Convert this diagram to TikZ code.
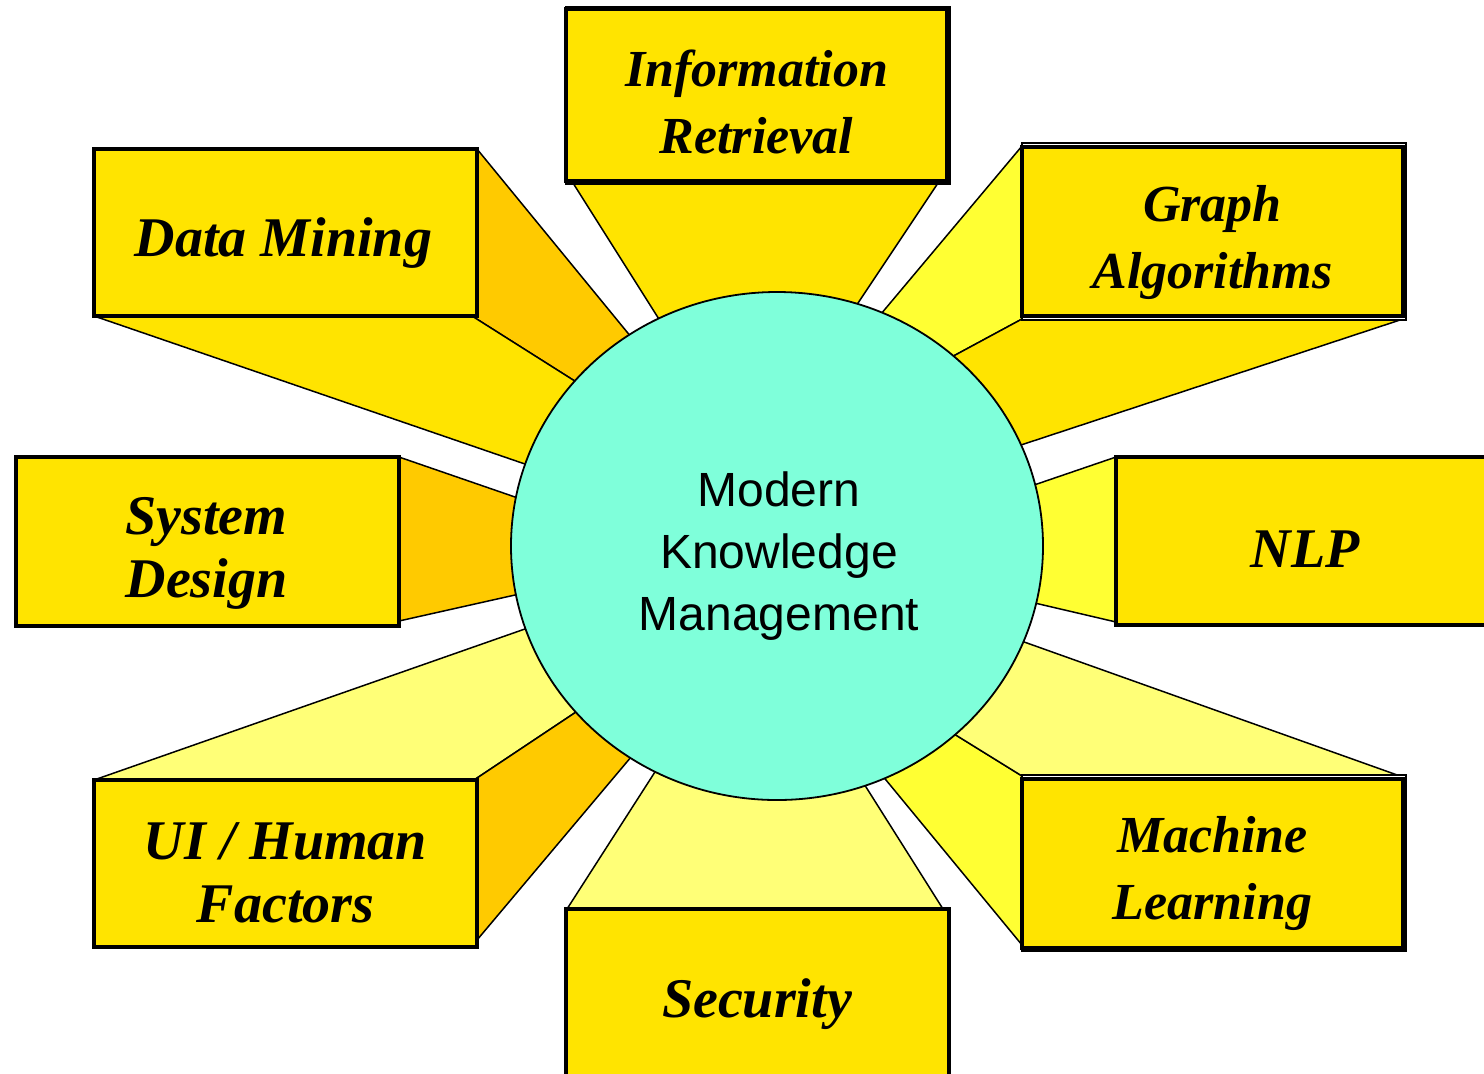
\documentclass[tikz,border=0pt]{standalone}
\usepackage{fontspec}
\setmainfont{Liberation Serif}
\newfontfamily\kmsans{Liberation Sans}
\usetikzlibrary{calc,shapes.geometric}
\definecolor{gold}{HTML}{FFE400}
\definecolor{deepgold}{HTML}{FFCA00}
\definecolor{brightyel}{HTML}{FFFF33}
\definecolor{paleyel}{HTML}{FFFF77}
\definecolor{aqua}{HTML}{7FFFDA}
\newcommand\beamface[5]{%
  \filldraw[fill=#1,draw=black,line width=0.75pt,line join=round]
  (#2) -- ($(#2)!1.5!(#3)$) -- ($(#4)!1.5!(#5)$) -- (#4) -- cycle;}
\begin{document}
\begin{tikzpicture}[x=0.5pt,y=-0.5pt,
  topicbox/.style={draw=black,line width=1.8pt,fill=gold,rectangle,inner sep=0pt},
  outerbox/.style={draw=black,line width=0.8pt,fill=white,rectangle,inner sep=0pt},
  topictext/.style={align=center,inner sep=0pt,font=\fontsize{26}{33.5}\selectfont\bfseries\itshape},
  bigtext/.style={align=center,inner sep=0pt,font=\fontsize{28}{31.5}\selectfont\bfseries\itshape}]
\useasboundingbox (0,0) rectangle (1484,1073);
% ---- extruded faces (drawn behind the hub) ----
% Information Retrieval
\beamface{gold}{573,183}{657,316}{938,183}{860,300}
% Data Mining
\beamface{deepgold}{477,149}{627,332}{472,316}{570,378}
\beamface{gold}{94,316}{522,463}{472,316}{570,378}
% Graph Algorithms
\beamface{brightyel}{1022,146}{886,308}{1022,319}{959,353}
\beamface{gold}{1022,319}{959,353}{1400,320}{1027,443}
% NLP
\beamface{brightyel}{1116,457}{1037,484}{1116,622}{1039,604}
% Machine Learning
\beamface{brightyel}{1022,776}{959,737}{1022,945}{886,780}
\beamface{paleyel}{1022,776}{959,737}{1400,776}{1027,643}
% Security
\beamface{paleyel}{567,909}{653,775}{943,909}{866,787}
% UI / Human Factors
\beamface{paleyel}{94,780}{522,630}{474,780}{570,716}
\beamface{deepgold}{474,780}{570,716}{477,940}{626,763}
% System Design
\beamface{deepgold}{399,457}{515,497}{399,621}{515,595}
% ---- hub ----
\node[ellipse,draw=black,line width=0.9pt,fill=aqua,minimum width=266pt,minimum height=254pt,inner sep=0pt] (hub) at (777,546) {};
\node[font=\kmsans\fontsize{24}{31}\selectfont,align=center] (hubtext) at (779,556) {Modern\\Knowledge\\Management};
% ---- boxes ----
\node[outerbox,minimum width=192pt,minimum height=88.5pt] (irback) at (758,95.5) {};
\node[topicbox,minimum width=190.5pt,minimum height=86pt] (ir) at (756.5,95) {};
\node[topictext] (irtext) at ($(ir.center)+(0,7)$) {Information\\Retrieval};
\node[topicbox,minimum width=191.5pt,minimum height=83.5pt] (dm) at (285.5,232.5) {};
\node[bigtext] (dmtext) at ($(dm.center)+(-2,11)$) {Data Mining};
\node[outerbox,minimum width=192pt,minimum height=88.5pt] (gaback) at (1214,231.5) {};
\node[topicbox,minimum width=190.5pt,minimum height=84.5pt] (ga) at (1212.5,231.5) {};
\node[topictext] (gatext) at ($(ga.center)+(0,11)$) {Graph\\Algorithms};
\node[topicbox,minimum width=191.5pt,minimum height=84.5pt] (sd) at (207.5,541.5) {};
\node[bigtext] (sdtext) at ($(sd.center)+(-1,12)$) {System\\Design};
\node[topicbox,minimum width=192pt,minimum height=84pt] (nlp) at (1308,541) {};
\node[bigtext] (nlptext) at ($(nlp.center)+(-3,8)$) {NLP};
\node[topicbox,minimum width=191.5pt,minimum height=83.5pt] (ui) at (285.5,863.5) {};
\node[bigtext] (uitext) at ($(ui.center)+(0,9)$) {UI / Human\\Factors};
\node[outerbox,minimum width=192pt,minimum height=88pt] (mlback) at (1214,863) {};
\node[topicbox,minimum width=190.5pt,minimum height=84.5pt] (ml) at (1212.5,863.5) {};
\node[topictext] (mltext) at ($(ml.center)+(0,10)$) {Machine\\Learning};
\node[topicbox,minimum width=191.5pt,minimum height=90.5pt] (sec) at (757.5,999.5) {};
\node[bigtext] (sectext) at (757,1004) {Security};
\end{tikzpicture}
\end{document}
